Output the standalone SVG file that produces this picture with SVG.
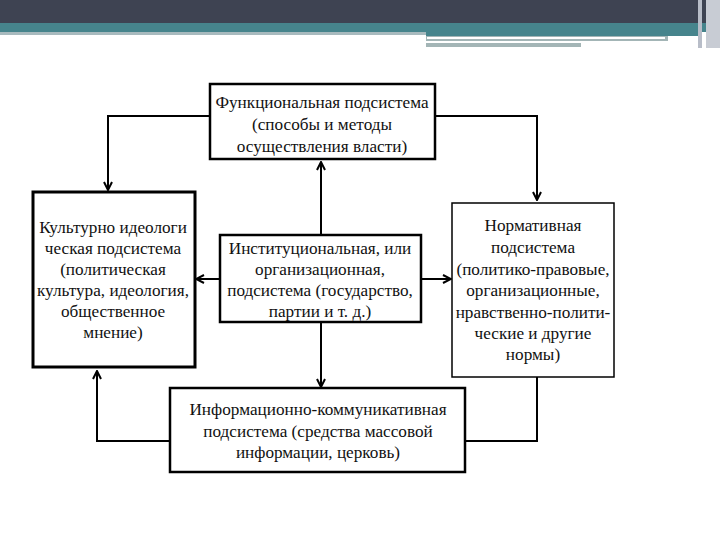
<svg xmlns="http://www.w3.org/2000/svg" width="720" height="540" viewBox="0 0 720 540">
<style>
.box{fill:#fff;stroke:#000}
.t{font-family:"Liberation Serif","Times New Roman",serif;font-size:17.2px;fill:#111;text-anchor:middle}
.c{fill:none;stroke:#000;stroke-width:2}
</style>
<defs>
<marker id="ar" viewBox="0 0 10 10" refX="9" refY="5" markerWidth="10" markerHeight="10" markerUnits="userSpaceOnUse" orient="auto">
<path d="M1,1 L9,5 L1,9" fill="none" stroke="#000" stroke-width="2"/>
</marker>
</defs>
<rect width="720" height="540" fill="#fff"/>
<g id="header">
<rect x="0" y="0" width="720" height="23" fill="#3E4352"/>
<rect x="0" y="23" width="720" height="9" fill="#46848C"/>
<rect x="0" y="32" width="426" height="3" fill="#A8BABE"/>
<rect x="426" y="32" width="274" height="4" fill="#46848C"/>
<rect x="426" y="36" width="242" height="5" fill="#A3B5B6"/>
<rect x="427" y="37" width="238" height="2" fill="#fff"/>
<rect x="426" y="43" width="155" height="4" fill="#A3B5B6"/>
<rect x="698" y="0" width="4" height="48" fill="#B8BDC8"/>
<rect x="706" y="0" width="14" height="48" fill="#C8CCD4"/>
</g>
<g id="connectors">
<polyline class="c" points="435,116 537,116 537,200" marker-end="url(#ar)"/>
<polyline class="c" points="209,116 108,116 108,190" marker-end="url(#ar)"/>
<line class="c" x1="321" y1="235" x2="321" y2="162" marker-end="url(#ar)"/>
<line class="c" x1="321" y1="322" x2="321" y2="387" marker-end="url(#ar)"/>
<line class="c" x1="220" y1="279" x2="196" y2="279" marker-end="url(#ar)"/>
<line class="c" x1="421" y1="279" x2="451" y2="279" marker-end="url(#ar)"/>
<polyline class="c" points="170,441 97,441 97,371" marker-end="url(#ar)"/>
<polyline class="c" points="465,441 537,441 537,377"/>
</g>
<g id="functional">
<rect class="box" x="210" y="84" width="225" height="75" stroke-width="2.5"/>
<text class="t" x="322" y="108">Функциональная подсистема</text>
<text class="t" x="322" y="130">(способы и методы</text>
<text class="t" x="322" y="152">осуществления власти)</text>
</g>
<g id="cultural">
<rect class="box" x="33" y="192" width="162" height="175" stroke-width="3"/>
<text class="t" x="113" y="233">Культурно идеологи</text>
<text class="t" x="113" y="254">ческая подсистема</text>
<text class="t" x="113" y="275">(политическая</text>
<text class="t" x="113" y="296">культура, идеология,</text>
<text class="t" x="113" y="317">общественное</text>
<text class="t" x="113" y="338">мнение)</text>
</g>
<g id="normative">
<rect class="box" x="452" y="203" width="162" height="174" stroke-width="1.5"/>
<text class="t" x="533" y="231">Нормативная</text>
<text class="t" x="533" y="253">подсистема</text>
<text class="t" x="533" y="275">(политико-правовые,</text>
<text class="t" x="533" y="296">организационные,</text>
<text class="t" x="533" y="318">нравственно-полити-</text>
<text class="t" x="533" y="339">ческие и другие</text>
<text class="t" x="533" y="360">нормы)</text>
</g>
<g id="institutional">
<rect class="box" x="220" y="235" width="201" height="87" stroke-width="2.5"/>
<text class="t" x="320" y="254">Институциональная, или</text>
<text class="t" x="320" y="275">организационная,</text>
<text class="t" x="320" y="296">подсистема (государство,</text>
<text class="t" x="320" y="317">партии и т. д.)</text>
</g>
<g id="informational">
<rect class="box" x="170" y="388" width="295" height="84" stroke-width="2.5"/>
<text class="t" x="318" y="415">Информационно-коммуникативная</text>
<text class="t" x="318" y="437">подсистема (средства массовой</text>
<text class="t" x="318" y="458">информации, церковь)</text>
</g>
</svg>
